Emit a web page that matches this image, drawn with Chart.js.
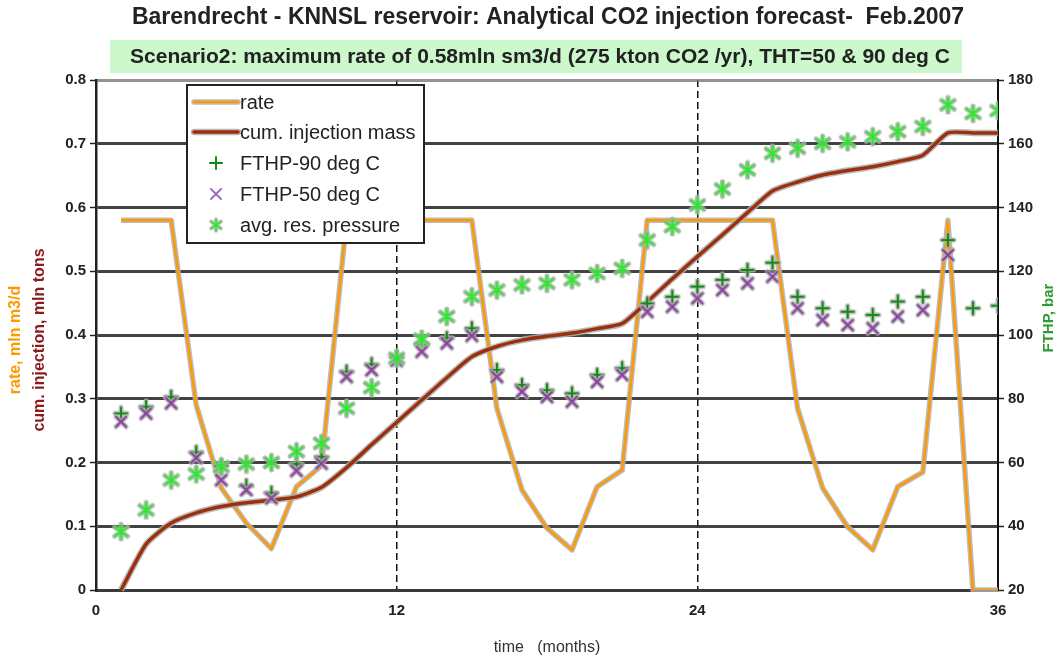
<!DOCTYPE html>
<html>
<head>
<meta charset="utf-8">
<script src="https://cdn.jsdelivr.net/npm/chart.js@4/dist/chart.umd.min.js"></script>
<style>
  html, body { margin: 0; padding: 0; background: #fff; }
  #wrap { width: 1063px; height: 661px; position: relative; }
</style>
</head>
<body>
<div id="wrap"><canvas id="c"></canvas></div>
<script>
const months = [1, 2, 3, 4, 5, 6, 7, 8, 9, 10, 11, 12, 13, 14, 15, 16, 17, 18,
  19, 20, 21, 22, 23, 24, 25, 26, 27, 28, 29, 30, 31, 32, 33, 34, 35, 36];

// mln m3/d
const rate = [0.58, 0.58, 0.58, 0.29, 0.16, 0.105, 0.065, 0.162, 0.195, 0.58, 0.58, 0.58,
  0.58, 0.58, 0.58, 0.285, 0.157, 0.097, 0.063, 0.162, 0.188, 0.58, 0.58, 0.58,
  0.58, 0.58, 0.58, 0.285, 0.16, 0.099, 0.063, 0.162, 0.185, 0.58, 0, 0];

// mln tons
const cumMass = [0, 0.072, 0.105, 0.121, 0.131, 0.137, 0.141, 0.146, 0.161, 0.192, 0.228, 0.263,
  0.298, 0.333, 0.366, 0.382, 0.392, 0.398, 0.403, 0.41, 0.418, 0.452, 0.488, 0.523,
  0.557, 0.592, 0.626, 0.64, 0.651, 0.658, 0.664, 0.672, 0.682, 0.717, 0.717, 0.717];

// bar
const fthp90 = [75.4, 77.5, 80.6, 63.2, 59.0, 52.7, 50.5, 59.5, 61.8, 88.5, 90.8, 93,
  97, 99.0, 102.1, 89.0, 84.3, 82.7, 81.7, 87.5, 89.6, 109.9, 112.0, 115.2,
  117.3, 120.4, 122.7, 112.0, 108.4, 107.3, 106.3, 110.5, 112.0, 129.8, 108.4, 109.2];

const fthp50 = [72.8, 75.4, 78.6, 61.5, 54.5, 51.4, 48.8, 57.4, 59.7, 86.9, 89.0, 92,
  94.8, 97.4, 99.8, 86.9, 82.2, 80.6, 79.1, 85.3, 87.5, 107.3, 108.9, 111.5,
  114.1, 116.2, 118.3, 108.4, 104.7, 103.1, 102.1, 105.8, 107.8, 125.1, null, null];

const avgResPressure = [38.3, 45.1, 54.5, 56.4, 58.7, 59.5, 60.0, 63.4, 66.0, 77.0, 83.5, 92.7,
  98.7, 105.8, 112.0, 114.1, 115.7, 116.2, 117.3, 119.3, 120.9, 129.8, 134.0, 140.8,
  145.8, 151.8, 157.0, 158.6, 160.1, 160.6, 162.2, 163.8, 165.4, 172.2, 169.5, 170.4];

const xTicks = [0, 12, 24, 36];
const leftTicks = [0, 0.1, 0.2, 0.3, 0.4, 0.5, 0.6, 0.7, 0.8];
const rightTicks = [20, 40, 60, 80, 100, 120, 140, 160, 180];

const ORANGE = '#ff9900';
const BROWN = '#9c2f0c';
const GREEN_DARK = '#138a13';
const PURPLE = '#8a3fa0';
const GREEN_LIGHT = '#22ee22';
const HALO = 'rgba(175,175,175,0.85)';
const FONT = '"Liberation Sans", Arial, sans-serif';

const toXY = (ys) => months.map((m, i) => ({ x: m, y: ys[i] }));

// marker images with a grey halo baked in
function markerImage(kind, color, size, halo) {
  const c = document.createElement('canvas');
  c.width = c.height = size;
  const g = c.getContext('2d');
  const m = size / 2, r = size / 2 - 3;
  const strokes = () => {
    g.beginPath();
    if (kind === 'plus') {
      g.moveTo(m, m - r); g.lineTo(m, m + r);
      g.moveTo(m - r, m); g.lineTo(m + r, m);
    } else if (kind === 'x') {
      const d = r * 0.72;
      g.moveTo(m - d, m - d); g.lineTo(m + d, m + d);
      g.moveTo(m - d, m + d); g.lineTo(m + d, m - d);
    } else {
      g.moveTo(m, m - r); g.lineTo(m, m + r);
      g.moveTo(m - r * 0.85, m - r * 0.6); g.lineTo(m + r * 0.85, m + r * 0.6);
      g.moveTo(m - r * 0.85, m + r * 0.6); g.lineTo(m + r * 0.85, m - r * 0.6);
    }
  };
  g.lineCap = 'round';
  if (halo) {
    strokes();
    g.strokeStyle = HALO;
    g.lineWidth = 5;
    g.stroke();
  }
  strokes();
  g.strokeStyle = color;
  g.lineWidth = 2;
  g.stroke();
  return c;
}
const plusImg = markerImage('plus', GREEN_DARK, 18, true);
const xImg = markerImage('x', PURPLE, 20, true);
const starImg = markerImage('star', GREEN_LIGHT, 21, true);

// grey halo under the two lines
const lineHalo = {
  id: 'lineHalo',
  beforeDatasetDraw(chart, args) {
    const meta = args.meta;
    const ds = chart.data.datasets[args.index];
    if (ds.showLine === false || !meta.dataset) return;
    const ctx = chart.ctx;
    const area = chart.chartArea;
    ctx.save();
    ctx.beginPath();
    ctx.rect(area.left, area.top - 4, area.right - area.left + 4, area.bottom - area.top + 6);
    ctx.clip();
    ctx.beginPath();
    meta.dataset.path(ctx);
    ctx.strokeStyle = HALO;
    ctx.lineWidth = ds.borderWidth + 3;
    ctx.lineJoin = 'round';
    ctx.stroke();
    ctx.restore();
  }
};

function vText(ctx, text, x, y, color) {
  ctx.save();
  ctx.translate(x, y);
  ctx.rotate(-Math.PI / 2);
  ctx.fillStyle = color;
  ctx.fillText(text, 0, 0);
  ctx.restore();
}

const decor = {
  id: 'decor',
  afterDraw(chart) {
    const ctx = chart.ctx;
    ctx.save();
    // titles
    ctx.fillStyle = '#222';
    ctx.textAlign = 'center';
    ctx.textBaseline = 'middle';
    ctx.font = 'bold 23px ' + FONT;
    ctx.fillText('Barendrecht - KNNSL reservoir: Analytical CO2 injection forecast-  Feb.2007', 548, 18);
    ctx.fillStyle = '#ccf8cc';
    ctx.fillRect(110, 40, 852, 33);
    ctx.fillStyle = '#222';
    ctx.font = 'bold 21px ' + FONT;
    ctx.fillText('Scenario2: maximum rate of 0.58mln sm3/d (275 kton CO2 /yr), THT=50 & 90 deg C', 540, 57);

    // axis titles
    ctx.font = 'bold 16px ' + FONT;
    vText(ctx, 'rate, mln m3/d', 16, 340, ORANGE);
    vText(ctx, 'cum. injection, mln tons', 40, 340, '#8b1c1c');
    ctx.font = 'bold 15px ' + FONT;
    vText(ctx, 'FTHP, bar', 1049, 318, '#2f9a2f');

    // legend box
    const lx = 187, ly = 85, lw = 237, lh = 158;
    ctx.fillStyle = '#fff';
    ctx.fillRect(lx, ly, lw, lh);
    ctx.strokeStyle = '#222';
    ctx.lineWidth = 2;
    ctx.strokeRect(lx, ly, lw, lh);
    const rows = [102, 132, 163, 194, 225];
    const names = chart.data.datasets.map((d) => d.label);
    const sample = (y, color, w) => {
      ctx.lineCap = 'round';
      ctx.strokeStyle = HALO;
      ctx.lineWidth = w + 3;
      ctx.beginPath(); ctx.moveTo(194, y); ctx.lineTo(238, y); ctx.stroke();
      ctx.strokeStyle = color;
      ctx.lineWidth = w;
      ctx.beginPath(); ctx.moveTo(194, y); ctx.lineTo(238, y); ctx.stroke();
    };
    sample(rows[0], ORANGE, 2.5);
    sample(rows[1], BROWN, 3.5);
    ctx.drawImage(markerImage('plus', GREEN_DARK, 18, false), 216 - 9, rows[2] - 9);
    ctx.drawImage(markerImage('x', '#a070c0', 20, false), 216 - 10, rows[3] - 10);
    ctx.drawImage(starImg, 216 - 8, rows[4] - 8, 16, 16);

    ctx.fillStyle = '#222';
    ctx.textAlign = 'left';
    ctx.font = '20px ' + FONT;
    names.forEach((n, i) => ctx.fillText(n, 240, rows[i] + 1));
    ctx.restore();
  }
};

const tickFont = { family: FONT, size: 15, weight: 'bold' };

new Chart(document.getElementById('c'), {
  type: 'line',
  data: {
    datasets: [
      { label: 'rate', data: toXY(rate), yAxisID: 'y', borderColor: ORANGE, borderWidth: 2.5,
        pointRadius: 0, tension: 0, order: 5 },
      { label: 'cum. injection mass', data: toXY(cumMass), yAxisID: 'y', borderColor: BROWN, borderWidth: 3.5,
        pointRadius: 0, tension: 0.2, order: 4 },
      { label: 'FTHP-90 deg C', data: toXY(fthp90), yAxisID: 'y2', showLine: false,
        pointStyle: plusImg, pointRadius: 9, order: 3 },
      { label: 'FTHP-50 deg C', data: toXY(fthp50), yAxisID: 'y2', showLine: false,
        pointStyle: xImg, pointRadius: 10, order: 2 },
      { label: 'avg. res. pressure', data: toXY(avgResPressure), yAxisID: 'y2', showLine: false,
        pointStyle: starImg, pointRadius: 10, order: 1 },
    ],
  },
  options: {
    responsive: true,
    maintainAspectRatio: false,
    animation: false,
    layout: { padding: { top: 80, left: 0, right: 0, bottom: 0 } },
    plugins: { legend: { display: false }, tooltip: { enabled: false } },
    scales: {
      x: {
        type: 'linear',
        min: 0,
        max: 36,
        afterBuildTicks: (s) => { s.ticks = xTicks.map((v) => ({ value: v })); },
        afterFit: (s) => { s.height = 71; },
        ticks: { font: tickFont, color: '#222', padding: 12 },
        grid: {
          drawTicks: false,
          color: (c) => (c.tick && (c.tick.value === 12 || c.tick.value === 24) ? '#111' : 'rgba(0,0,0,0)'),
          lineWidth: 1.5,
        },
        border: { color: '#3a3a3a', width: 3, dash: [7, 4] },
        title: {
          display: true,
          text: 'time   (months)',
          color: '#333',
          font: { family: FONT, size: 16 },
          padding: { top: 12 },
        },
      },
      y: {
        position: 'left',
        min: 0,
        max: 0.8,
        afterBuildTicks: (s) => { s.ticks = leftTicks.map((v) => ({ value: v })); },
        afterFit: (s) => { s.width = 96; },
        ticks: { font: tickFont, color: '#222', padding: 4,
          callback: (v) => (v === 0 ? '0' : v.toFixed(1)) },
        grid: {
          color: (c) => (c.tick && c.tick.value === 0.8 ? 'rgba(120,120,120,0.8)' : 'rgba(45,45,45,0.9)'),
          lineWidth: 3, tickLength: 6, tickColor: '#222', tickWidth: 1.5,
        },
        border: { color: '#222', width: 2.5 },
      },
      y2: {
        position: 'right',
        min: 20,
        max: 180,
        afterBuildTicks: (s) => { s.ticks = rightTicks.map((v) => ({ value: v })); },
        afterFit: (s) => { s.width = 65; },
        ticks: { font: tickFont, color: '#222', padding: 4 },
        grid: { drawOnChartArea: false, tickLength: 6, tickColor: '#222', tickWidth: 1.5 },
        border: { color: '#111', width: 2 },
      },
    },
  },
  plugins: [lineHalo, decor],
});
</script>
</body>
</html>
